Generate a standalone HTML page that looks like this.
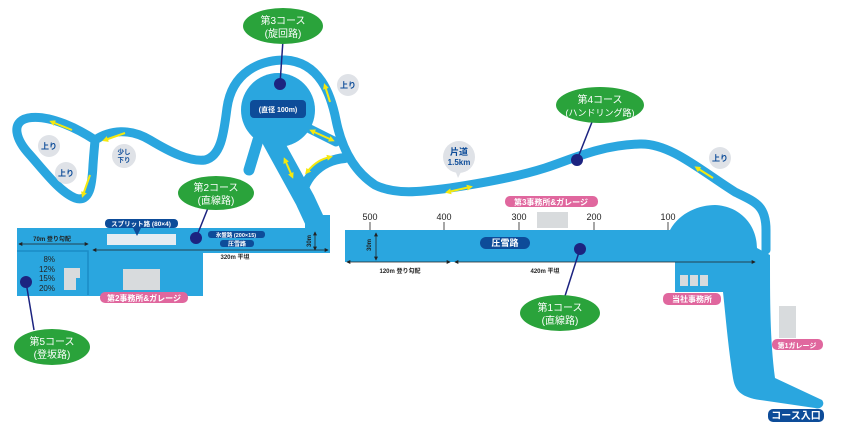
<!DOCTYPE html>
<html><head><meta charset="utf-8"><style>
html,body{margin:0;padding:0;background:#fff}
svg{display:block}
text{font-family:"Liberation Sans","Noto Sans CJK JP",sans-serif}
</style></head><body>
<svg width="841" height="438" viewBox="0 0 841 438" xmlns="http://www.w3.org/2000/svg">
<defs><marker id="ah" viewBox="0 0 6 6" refX="5" refY="3" markerWidth="5" markerHeight="5" orient="auto-start-reverse"><path d="M0,0 L6,3 L0,6Z" fill="#222"/></marker>
<marker id="ya" viewBox="0 0 6 6" refX="3" refY="3" markerWidth="3" markerHeight="3" orient="auto-start-reverse"><path d="M0,0 L6,3 L0,6Z" fill="#f5e80f"/></marker></defs>
<g fill="none" stroke="#2aa6df" stroke-linecap="round" stroke-linejoin="round">
<path stroke-width="9" d="M95,140 C80,130 50,114 28,118 C10,122 16,140 30,155 C45,172 60,192 75,198 C90,203 92,185 93,165 C94,150 95,142 95,140 C110,130 130,128 150,140 C170,152 190,162 205,160 C222,156 224,130 227,108 C232,72 260,60 285,60 C320,62 331,95 336,120 C341,145 352,170 375,185 C395,195 420,192 450,188 C490,182 520,176 545,168 C570,160 600,145 640,144 C670,143 700,170 735,192 C755,202 766,205 766,230 L766,250"/>
<path stroke-width="11" d="M258,140 L249,170"/>
<path stroke-width="20" d="M272,140 L305,200 L318,228"/>
<path stroke-width="10" d="M302,205 C300,180 320,160 345,158"/>
<path stroke-width="9" d="M308,128 L336,142"/>
</g>
<g fill="#2aa6df">
<circle cx="278" cy="110" r="37"/>
<rect x="17" y="228" width="313" height="25"/>
<rect x="17" y="228" width="186" height="68"/>
<path d="M305,215 L330,215 L330,228 L305,228Z"/>
<rect x="345" y="230" width="330" height="32"/>
<path d="M670,262 L670,230 C680,212 700,205 715,205 C740,206 757,225 757,248 L770,255 C770,300 770,340 775,378 L822,400 C826,405 820,410 815,408 L760,400 C740,397 735,390 733,378 C728,345 726,320 723,292 L675,292 L675,262Z"/>
</g>
<g stroke="#1b8cc6" stroke-width="1.5" fill="none"><path d="M17,251 H88 V295"/></g>
<g fill="#d8dbdd">
<rect x="107" y="234" width="69" height="11" fill="#e4ecf2"/>
<rect x="123" y="269" width="37" height="21"/>
<path d="M64,268 H80 V278 H76 V290 H64Z"/>
<rect x="537" y="212" width="31" height="16"/>
<rect x="680" y="275" width="8" height="11"/><rect x="690" y="275" width="8" height="11"/><rect x="700" y="275" width="8" height="11"/>
<rect x="779" y="306" width="17" height="32"/>
</g>
<g stroke="#f5e80f" stroke-width="2" fill="none">
<path d="M72,130 L52,122" marker-end="url(#ya)"/><path d="M125,133 L105,140" marker-end="url(#ya)"/><path d="M90,175 L83,195" marker-end="url(#ya)"/>
<path d="M330,102 L325,86" marker-end="url(#ya)"/><path d="M312,131 L332,140" marker-start="url(#ya)" marker-end="url(#ya)"/><path d="M285,160 L292,176" marker-start="url(#ya)" marker-end="url(#ya)"/>
<path d="M307,172 C315,162 322,159 330,157" marker-start="url(#ya)" marker-end="url(#ya)"/><path d="M448,192 L470,187" marker-start="url(#ya)" marker-end="url(#ya)"/><path d="M713,178 L697,168" marker-end="url(#ya)"/>
</g>
<g stroke="#222" stroke-width="0.8">
<line x1="19" y1="244" x2="88" y2="244" marker-start="url(#ah)" marker-end="url(#ah)"/><line x1="93" y1="250" x2="328" y2="250" marker-start="url(#ah)" marker-end="url(#ah)"/>
<line x1="315" y1="232" x2="315" y2="250" marker-start="url(#ah)" marker-end="url(#ah)"/><line x1="376" y1="233" x2="376" y2="260" marker-start="url(#ah)" marker-end="url(#ah)"/>
<line x1="347" y1="262" x2="450" y2="262" marker-start="url(#ah)" marker-end="url(#ah)"/><line x1="455" y1="262" x2="755" y2="262" marker-start="url(#ah)" marker-end="url(#ah)"/>
<line x1="370" y1="222" x2="370" y2="230"/><line x1="444" y1="222" x2="444" y2="230"/><line x1="519" y1="222" x2="519" y2="230"/><line x1="594" y1="222" x2="594" y2="230"/><line x1="668" y1="222" x2="668" y2="230"/>
</g>
<g font-size="9" fill="#222" text-anchor="middle">
<text x="370" y="220">500</text><text x="444" y="220">400</text><text x="519" y="220">300</text><text x="594" y="220">200</text><text x="668" y="220">100</text>
</g>
<g font-size="6" fill="#222" text-anchor="middle" font-weight="bold">
<text x="52" y="241">70m 登り勾配</text><text x="235" y="259">320m 平坦</text><text x="400" y="273">120m 登り勾配</text><text x="545" y="273">420m 平坦</text>
<text x="311" y="241" transform="rotate(-90 311 241)">30m</text><text x="371" y="245" transform="rotate(-90 371 245)">30m</text>
</g>
<g font-size="8" fill="#222" text-anchor="end"><text x="55" y="262">8%</text><text x="55" y="272">12%</text><text x="55" y="281">15%</text><text x="55" y="291">20%</text></g>
<g fill="#0d4c99">
<rect x="250" y="100" width="56" height="18" rx="4"/>
<rect x="105" y="219" width="73" height="9" rx="4"/><path d="M133,228 L141,228 L137,236Z"/>
<rect x="208" y="231" width="57" height="7" rx="3"/><rect x="220" y="240" width="34" height="7" rx="3"/>
<rect x="480" y="237" width="50" height="12" rx="6"/><rect x="768" y="409" width="56" height="13" rx="5"/>
</g>
<g fill="#fff" font-weight="bold" text-anchor="middle">
<text x="278" y="112" font-size="7">(直径 100m)</text>
<text x="141" y="226" font-size="6.5">スプリット路 (80×4)</text>
<text x="236" y="237" font-size="5.5">氷盤路 (200×15)</text><text x="237" y="246" font-size="6">圧雪路</text>
<text x="505" y="246" font-size="9">圧雪路</text><text x="796" y="419" font-size="10">コース入口</text>
</g>
<g fill="#e0679e"><rect x="100" y="292" width="88" height="11" rx="5"/><rect x="505" y="196" width="93" height="11" rx="5"/><rect x="663" y="293" width="58" height="12" rx="5"/><rect x="772" y="339" width="51" height="11" rx="5"/></g>
<g fill="#fff" font-size="8" font-weight="bold" text-anchor="middle">
<text x="144" y="301">第2事務所&amp;ガレージ</text><text x="551" y="205">第3事務所&amp;ガレージ</text><text x="692" y="302">当社事務所</text><text x="797" y="348" font-size="7">第1ガレージ</text>
</g>
<g fill="#dfe2e7">
<circle cx="348" cy="85" r="11"/><circle cx="49" cy="146" r="11"/><circle cx="66" cy="173" r="11"/><circle cx="124" cy="156" r="12"/><circle cx="459" cy="157" r="16"/><path d="M455,170 L462,170 L458,178Z"/><circle cx="720" cy="158" r="11"/>
</g>
<g fill="#0d4c99" font-weight="bold" text-anchor="middle" font-size="8">
<text x="348" y="88">上り</text><text x="49" y="149">上り</text><text x="66" y="176">上り</text><text x="124" y="154" font-size="6.5">少し</text><text x="124" y="162" font-size="6.5">下り</text>
<text x="459" y="155" font-size="9">片道</text><text x="459" y="165">1.5km</text><text x="720" y="161">上り</text>
</g>
<g stroke="#1c2380" stroke-width="1.5"><line x1="283" y1="40" x2="280" y2="84"/><line x1="208" y1="208" x2="196" y2="238"/><line x1="592" y1="122" x2="577" y2="160"/><line x1="565" y1="296" x2="580" y2="249"/><line x1="34" y1="330" x2="26" y2="282"/></g>
<g fill="#1c2380"><circle cx="280" cy="84" r="6"/><circle cx="196" cy="238" r="6"/><circle cx="577" cy="160" r="6"/><circle cx="580" cy="249" r="6"/><circle cx="26" cy="282" r="6"/></g>
<g fill="#2aa33b"><ellipse cx="283" cy="26" rx="40" ry="18"/><ellipse cx="216" cy="193" rx="38" ry="17"/><ellipse cx="600" cy="105" rx="44" ry="18"/><ellipse cx="560" cy="313" rx="40" ry="18"/><ellipse cx="52" cy="347" rx="38" ry="18"/></g>
<g fill="#fff" font-size="10" text-anchor="middle">
<text x="283" y="24">第3コース</text><text x="283" y="37">(旋回路)</text>
<text x="216" y="191">第2コース</text><text x="216" y="204">(直線路)</text>
<text x="600" y="103">第4コース</text><text x="600" y="116" font-size="9">(ハンドリング路)</text>
<text x="560" y="311">第1コース</text><text x="560" y="324">(直線路)</text>
<text x="52" y="345">第5コース</text><text x="52" y="358">(登坂路)</text>
</g>
</svg>
</body></html>
